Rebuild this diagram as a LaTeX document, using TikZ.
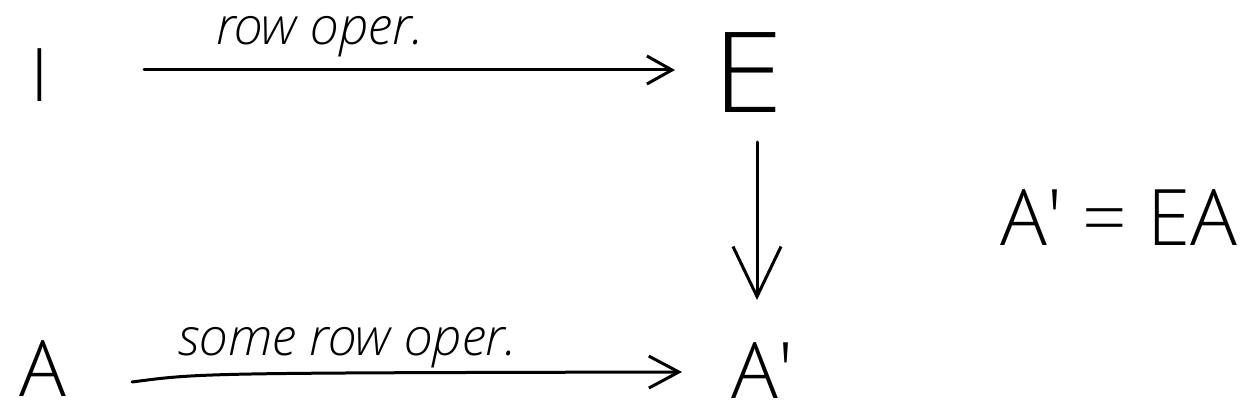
\documentclass[tikz,border=0pt]{standalone}
\usepackage{fontspec}
\setmainfont{Open Sans Light}
\usetikzlibrary{arrows.meta}
\begin{document}
\begin{tikzpicture}[x=1pt,y=-1pt,
  lett/.style={inner sep=0pt, anchor=base},
  lab/.style={font=\fontsize{52}{56}\selectfont\itshape, inner sep=0pt, anchor=base},
  arr/.style={line width=3pt, line cap=round, -{Straight Barb[length=25pt,width=28pt,line width=3pt]}}]
\useasboundingbox (0,0) rectangle (1250,417);
\node[lett, font=\fontsize{74}{80}\selectfont] (I) at (40,102) {I};
\node[lett, font=\fontsize{112}{120}\selectfont, xscale=1.15] (E) at (748,113) {E};
\node[lett, font=\fontsize{78}{84}\selectfont] (A) at (43,396) {A};
\node[lett, font=\fontsize{78}{84}\selectfont, anchor=base west] (Ap) at (731,398) {A′};
\node[lett, font=\fontsize{78}{84}\selectfont, anchor=base west] (eq) at (1000,245) {A′ = EA};
\coordinate (a1) at (144,70);
\coordinate (a2) at (675,70);
\draw[arr] (a1) -- (a2);
\node[lab] (la) at (320,45) {row oper.};
\coordinate (b1) at (132,382);
\coordinate (b2) at (682,372);
\draw[arr, -{Straight Barb[length=30pt,width=32pt,line width=3pt]}] (b1) .. controls (200,373) .. (b2);
\node[lab] (lb) at (348,355) {some row oper.};
\coordinate (c1) at (757,142);
\coordinate (c2) at (757,300);
\draw[arr, -{Straight Barb[length=50pt,width=48pt,line width=3pt]}] (c1) -- (c2);
\end{tikzpicture}
\end{document}
